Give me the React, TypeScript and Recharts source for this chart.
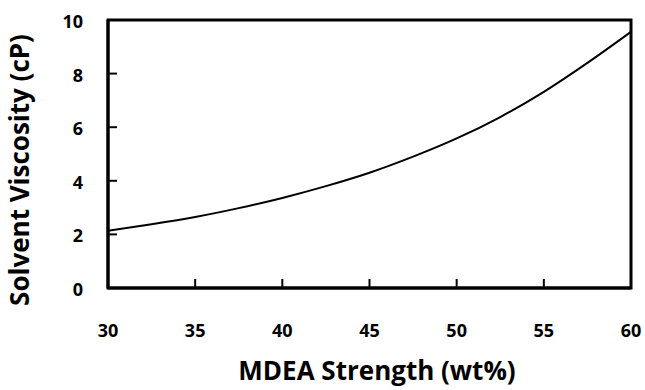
import { LineChart, Line, XAxis, YAxis, ReferenceArea } from "recharts";

if (typeof document !== "undefined") document.body.style.margin = "0";

const strength = [30, 32.5, 35, 37.5, 40, 42.5, 45, 47.5, 50, 52.5, 55, 57.5, 60];
const viscosity = [2.14, 2.38, 2.65, 2.98, 3.36, 3.8, 4.3, 4.9, 5.58, 6.38, 7.32, 8.4, 9.56];
const xTicks = [30, 35, 40, 45, 50, 55, 60];
const yTicks = [0, 2, 4, 6, 8, 10];

const data = strength.map((s, i) => ({ s, v: viscosity[i] }));

const FONT = "'Open Sans', sans-serif";
const PLOT_LEFT = 108;
const PLOT_BOTTOM = 288;

// inward tick marks, labels outside
const renderXTick = (props: any) => {
  const { x, payload } = props;
  const v = payload.value;
  const inner = v !== 30 && v !== 60;
  return (
    <g>
      {inner && <line x1={x} x2={x} y1={PLOT_BOTTOM} y2={PLOT_BOTTOM - 9} stroke="#000" strokeWidth={2} />}
      <text x={x} y={PLOT_BOTTOM + 49} textAnchor="middle" fontFamily={FONT} fontWeight={700} fontSize={18} fill="#000">
        {v}
      </text>
    </g>
  );
};

const renderYTick = (props: any) => {
  const { y, payload } = props;
  const v = payload.value;
  const inner = v !== 0 && v !== 10;
  return (
    <g>
      {inner && <line x1={PLOT_LEFT} x2={PLOT_LEFT + 9} y1={y} y2={y} stroke="#000" strokeWidth={2} />}
      <text x={PLOT_LEFT - 25} y={y + 8} textAnchor="end" fontFamily={FONT} fontWeight={700} fontSize={18} fill="#000">
        {v}
      </text>
    </g>
  );
};

const xTitle = () => (
  <text x={377} y={380} textAnchor="middle" fontFamily={FONT} fontWeight={700} fontSize={26} fill="#000">
    MDEA Strength (wt%)
  </text>
);

const yTitle = () => (
  <text
    x={0}
    y={0}
    transform="translate(29, 170) rotate(-90)"
    textAnchor="middle"
    fontFamily={FONT}
    fontWeight={700}
    fontSize={26}
    fill="#000"
  >
    Solvent Viscosity (cP)
  </text>
);

export default function App() {
  return (
    <div style={{ width: 645, height: 390, background: "#fff" }}>
      <LineChart width={645} height={390} data={data} margin={{ top: 20, right: 14, left: 0, bottom: 0 }}>
        <XAxis
          dataKey="s"
          type="number"
          domain={[30, 60]}
          ticks={xTicks}
          tickLine={false}
          tick={renderXTick}
          height={102}
          stroke="#000"
          strokeWidth={3}
          label={{ content: xTitle }}
        />
        <YAxis
          type="number"
          domain={[0, 10]}
          ticks={yTicks}
          tickLine={false}
          tick={renderYTick}
          width={108}
          stroke="#000"
          strokeWidth={3}
          label={{ content: yTitle }}
        />
        <ReferenceArea x1={30} x2={60} y1={0} y2={10} fill="none" stroke="#000" strokeWidth={3} ifOverflow="visible" />
        <Line type="monotone" dataKey="v" stroke="#000" strokeWidth={2} dot={false} isAnimationActive={false} />
      </LineChart>
    </div>
  );
}
